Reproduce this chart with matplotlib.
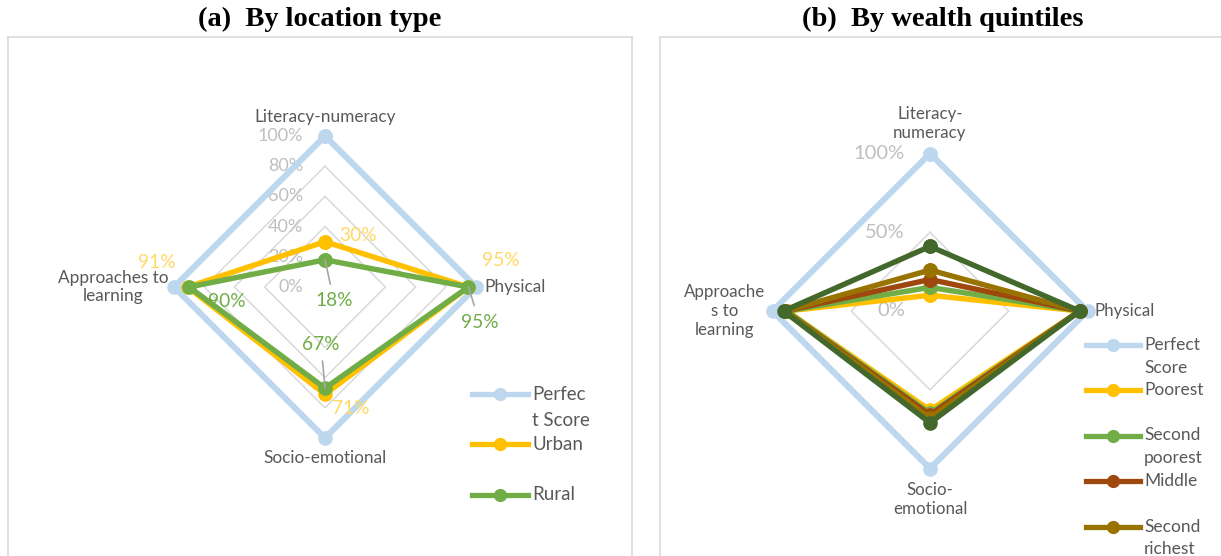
import numpy as np
import matplotlib
matplotlib.use("Agg")
import matplotlib.pyplot as plt
from matplotlib.lines import Line2D

plt.rcParams['font.family'] = ['Lato', 'DejaVu Sans']

W, H = 1221, 556

# radar axes, clockwise from the top
domains = ["Literacy-numeracy", "Physical", "Socio-emotional", "Approaches to\nlearning"]
domains_b = ["Literacy-\nnumeracy", "Physical", "Socio-\nemotional", "Approache\ns to\nlearning"]

# (a) location type, % of perfect score
perfect = [100, 100, 100, 100]
urban = [30, 95, 71, 91]
rural = [18, 95, 67, 90]

# (b) wealth quintiles
quintile_names = ["Poorest", "Second\npoorest", "Middle", "Second\nrichest", "Richest"]
poorest = [10, 95, 63, 91]
second_poorest = [15, 95, 65, 91]
middle = [20, 95, 66, 92]
second_richest = [26, 95, 68, 92]
richest = [41, 95, 71, 93]

BLUE = "#BDD7EE"
GOLD = "#FFC000"
GREEN = "#70AD47"
RUST = "#9E480E"
OLIVE = "#997300"
DKGREEN = "#43682B"
TXT = "#595959"
TICK = "#BFBFBF"
GRID = "#D9D9D9"

angles = np.deg2rad([90, 0, -90, 180])


def to_xy(vals):
    v = np.asarray(vals + vals[:1], dtype=float)
    a = np.concatenate([angles, angles[:1]])
    return v * np.cos(a), v * np.sin(a)


def fx(x):
    return x / W


def fy(y):
    return 1 - y / H


def make_panel(left, right, top, cx, cy, scale):
    # axes in pixel terms; one data unit (1%) is `scale` pixels
    ax = fig.add_axes([fx(left), -0.02, fx(right) - fx(left), fy(top) + 0.02])
    ax.set_xlim((left - cx) / scale, (right - cx) / scale)
    ax.set_ylim((cy - 1.02 * H) / scale, (cy - top) / scale)
    ax.set_xticks([])
    ax.set_yticks([])
    for s in ax.spines.values():
        s.set_color(GRID)
        s.set_linewidth(1.2)
    ax.spines['bottom'].set_visible(False)
    return ax


def grid(ax, levels):
    for lv in levels:
        x, y = to_xy([lv] * 4)
        ax.plot(x, y, color=GRID, lw=1.1, zorder=1)


def series(ax, vals, color, lw=3.9, ms=9.5, z=3):
    x, y = to_xy(vals)
    ax.plot(x, y, color=color, lw=lw, marker='o', ms=ms, zorder=z,
            solid_joinstyle='miter')


def legend_rows(x0, x1, tx, rows, size, spacing):
    for label, color, y in rows:
        fig.add_artist(Line2D([fx(x0), fx(x1)], [fy(y), fy(y)], color=color,
                              lw=3.8, transform=fig.transFigure))
        fig.add_artist(Line2D([fx((x0 + x1) / 2)], [fy(y)], color=color,
                              marker='o', ms=8.5, transform=fig.transFigure))
        for i, part in enumerate(label.split("\n")):
            fig.text(fx(tx), fy(y + i * spacing), part, color=TXT, fontsize=size,
                     ha='left', va='center')


fig = plt.figure(figsize=(W / 100, H / 100), dpi=100)

# ---- (a) by location type ----
axa = make_panel(8, 632, 37, 325, 287, 1.51)
grid(axa, [40, 60, 80])
for v in range(0, 101, 20):
    axa.annotate(f"{v}%", (0, v), xytext=(-22, 0), textcoords='offset pixels',
                 ha='right', va='center', color=TICK, fontsize=13, zorder=2)
series(axa, perfect, BLUE, lw=4.4)
series(axa, urban, GOLD, z=4)
series(axa, rural, GREEN, z=5)

cat_off_a = [((0, 19), 'center'), ((8, 0), 'left'), ((0, -20), 'center'), ((-61, 0), 'center')]
for name, (off, ha), a in zip(domains, cat_off_a, angles):
    axa.annotate(name, (100 * np.cos(a), 100 * np.sin(a)), xytext=off,
                 textcoords='offset pixels', ha=ha, va='center', color=TXT,
                 fontsize=12.4, linespacing=1.2)

# label offsets in the same order as the domains
urban_off = [(33, 6), (32, 27), (26, -14), (-31, 25)]
rural_off = [(9, -41), (11, -35), (-4, 44), (38, -14)]
rural_leader = [True, True, True, False]
for vals, offs, color, leaders in [(urban, urban_off, "#FFD966", [False] * 4),
                                   (rural, rural_off, GREEN, rural_leader)]:
    for v, a, off, lead in zip(vals, angles, offs, leaders):
        props = dict(arrowstyle='-', color='#A6A6A6', lw=1.2, shrinkA=4, shrinkB=0) if lead else None
        axa.annotate(f"{v}%", (v * np.cos(a), v * np.sin(a)), xytext=off,
                     textcoords='offset pixels', ha='center', va='center',
                     color=color, fontsize=13.8, arrowprops=props, zorder=6)

legend_rows(472, 528, 532, [("Perfec\nt Score", BLUE, 394), ("Urban", GOLD, 444),
                            ("Rural", GREEN, 495)], 13.5, 26)

# ---- (b) by wealth quintiles ----
axb = make_panel(660, W + 5, 37, 930, 311, 1.575)
axb.spines['right'].set_visible(False)
grid(axb, [50])
for v in (0, 50, 100):
    axb.annotate(f"{v}%", (0, v), xytext=(-25, 0), textcoords='offset pixels',
                 ha='right', va='center', color=TICK, fontsize=14.5, zorder=2)
series(axb, perfect, BLUE, lw=4.4)
quintiles = [poorest, second_poorest, middle, second_richest, richest]
q_colors = [GOLD, GREEN, RUST, OLIVE, DKGREEN]
for i, (vals, c) in enumerate(zip(quintiles, q_colors)):
    series(axb, vals, c, z=4 + i)

cat_off_b = [((0, 30), 'center'), ((7, 0), 'left'), ((0, -31), 'center'), ((-48, 0), 'center')]
for name, (off, ha), a in zip(domains_b, cat_off_b, angles):
    axb.annotate(name, (100 * np.cos(a), 100 * np.sin(a)), xytext=off,
                 textcoords='offset pixels', ha=ha, va='center', color=TXT,
                 fontsize=12.2, linespacing=1.2)

rows_b = [("Perfect\nScore", BLUE, 345)]
for k, (name, c) in enumerate(zip(quintile_names, q_colors)):
    rows_b.append((name, c, 390 + 45.5 * k))
legend_rows(1086, 1140, 1144, rows_b, 12.5, 23)

# panel titles
title_font = dict(family='Liberation Serif', fontweight='bold', fontsize=20.5,
                  ha='center', va='center', color='black')
fig.text(fx(320), fy(19), "(a)  By location type", **title_font)
fig.text(fx(943), fy(19), "(b)  By wealth quintiles", **title_font)

fig.savefig("out.png", dpi=100)
